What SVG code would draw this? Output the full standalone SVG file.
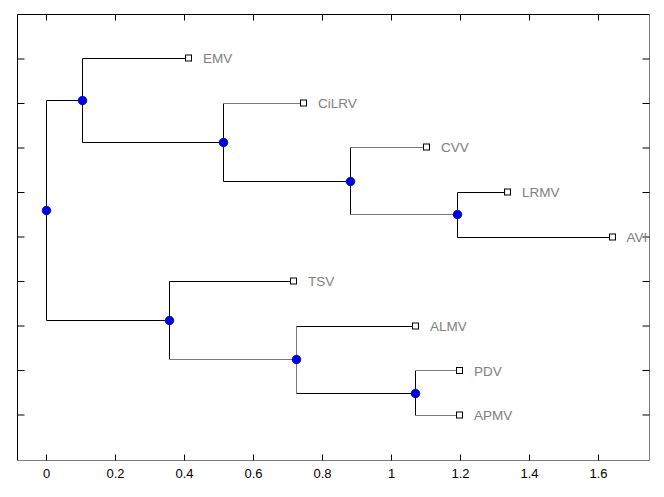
<svg xmlns="http://www.w3.org/2000/svg" width="664" height="497" viewBox="0 0 664 497">
<defs>
<style>
.bg{fill:#ffffff}
.ax{stroke:#000;stroke-width:1;fill:none}
.axg{stroke:#7a7a7a;stroke-width:1;fill:none}
.tk{stroke:#000;stroke-width:1}
.tl{font-family:"Liberation Sans",Arial,sans-serif;font-size:13px;fill:#000;text-anchor:middle}
.e{stroke:#000;stroke-width:1;fill:none}
.eg{stroke:#7a7a7a;stroke-width:1;fill:none}
.n{fill:#0000f0;stroke:#00008a;stroke-width:0.8}
.leaf{fill:#fff;stroke:#000;stroke-width:1}
.lb{font-family:"Liberation Sans",Arial,sans-serif;font-size:13.5px;fill:#808080}
</style>
<clipPath id="plot"><rect x="17.5" y="14.5" width="632" height="446"/></clipPath>
</defs>
<rect class="bg" x="0" y="0" width="664" height="497"/>

<g id="axes">
<path class="ax" d="M17.5,460.5 V14.5 H649.5"/>
<path class="axg" d="M649.5,14.5 V460.5 H17.5"/>
<g class="tk">
<path d="M46.5,14.5v6M115.5,14.5v6M184.5,14.5v6M253.5,14.5v6M322.5,14.5v6M391.5,14.5v6M460.5,14.5v6M529.5,14.5v6M598.5,14.5v6"/>
<path d="M46.5,460.5v-6M115.5,460.5v-6M184.5,460.5v-6M253.5,460.5v-6M322.5,460.5v-6M391.5,460.5v-6M460.5,460.5v-6M529.5,460.5v-6M598.5,460.5v-6"/>
<path d="M17.5,59h7M17.5,103.5h7M17.5,148h7M17.5,192.5h7M17.5,237h7M17.5,281.5h7M17.5,326h7M17.5,370.5h7M17.5,415h7"/>
<path d="M649.5,59h-7M649.5,103.5h-7M649.5,148h-7M649.5,192.5h-7M649.5,237h-7M649.5,281.5h-7M649.5,326h-7M649.5,370.5h-7M649.5,415h-7"/>
</g>
<g>
<text class="tl" x="46.5" y="478">0</text>
<text class="tl" x="115.5" y="478">0.2</text>
<text class="tl" x="184.5" y="478">0.4</text>
<text class="tl" x="253.5" y="478">0.6</text>
<text class="tl" x="322.5" y="478">0.8</text>
<text class="tl" x="391.5" y="478">1</text>
<text class="tl" x="460.5" y="478">1.2</text>
<text class="tl" x="529.5" y="478">1.4</text>
<text class="tl" x="598.5" y="478">1.6</text>
</g>
</g>

<g id="connectors">
<!-- vertical spines -->
<path class="e" d="M46.5,100.5V320.5"/>
<path class="e" d="M82.5,58.5V142.5"/>
<path class="e" d="M223.5,103.5V181.5"/>
<path class="e" d="M350.5,147.5V214.5"/>
<path class="e" d="M457.5,192.5V237.5"/>
<path class="e" d="M169.5,281.5V359.5"/>
<path class="eg" d="M296.5,326.5V393.5"/>
<path class="e" d="M415.5,370.5V415.5"/>
<!-- horizontal branches -->
<path class="e" d="M46.5,100.5H82.5"/>
<path class="e" d="M82.5,58.5H185"/>
<path class="e" d="M82.5,142.5H223.5"/>
<path class="eg" d="M223.5,103.5H300"/>
<path class="e" d="M223.5,181.5H350.5"/>
<path class="eg" d="M350.5,147.5H423"/>
<path class="eg" d="M350.5,214.5H457.5"/>
<path class="e" d="M457.5,192.5H504"/>
<path class="e" d="M457.5,237.5H609"/>
<path class="e" d="M46.5,320.5H169.5"/>
<path class="e" d="M169.5,281.5H290"/>
<path class="eg" d="M169.5,359.5H296.5"/>
<path class="e" d="M296.5,326.5H412"/>
<path class="e" d="M296.5,393.5H415.5"/>
<path class="eg" d="M415.5,370.5H456"/>
<path class="eg" d="M415.5,415.5H456"/>
</g>

<g id="root"><circle class="n" cx="46.5" cy="210.5" r="4.3"/></g>
<g id="nodeA"><circle class="n" cx="82.5" cy="100.5" r="4.3"/></g>
<g id="nodeB"><circle class="n" cx="223.5" cy="142.5" r="4.3"/></g>
<g id="nodeC"><circle class="n" cx="350.5" cy="181.5" r="4.3"/></g>
<g id="nodeD"><circle class="n" cx="457.5" cy="214.5" r="4.3"/></g>
<g id="nodeE"><circle class="n" cx="169.5" cy="320.5" r="4.3"/></g>
<g id="nodeF"><circle class="n" cx="296.5" cy="359.5" r="4.3"/></g>
<g id="nodeG"><circle class="n" cx="415.5" cy="393.5" r="4.3"/></g>

<g id="EMV"><rect class="leaf" x="185.5" y="55" width="6" height="6"/><text class="lb" x="203" y="63.3">EMV</text></g>
<g id="CiLRV"><rect class="leaf" x="300.5" y="100" width="6" height="6"/><text class="lb" x="318" y="108.3">CiLRV</text></g>
<g id="CVV"><rect class="leaf" x="423.5" y="144" width="6" height="6"/><text class="lb" x="441" y="152.3">CVV</text></g>
<g id="LRMV"><rect class="leaf" x="504.5" y="189" width="6" height="6"/><text class="lb" x="522" y="197.3">LRMV</text></g>
<g id="AVI"><rect class="leaf" x="609.5" y="234" width="6" height="6"/><text class="lb" x="626.5" y="242.3" clip-path="url(#plot)">AVI</text></g>
<g id="TSV"><rect class="leaf" x="290.5" y="278" width="6" height="6"/><text class="lb" x="308" y="286.3">TSV</text></g>
<g id="ALMV"><rect class="leaf" x="412.5" y="323" width="6" height="6"/><text class="lb" x="430" y="331.3">ALMV</text></g>
<g id="PDV"><rect class="leaf" x="456.5" y="367.5" width="6" height="6"/><text class="lb" x="474" y="375.5">PDV</text></g>
<g id="APMV"><rect class="leaf" x="456.5" y="412" width="6" height="6"/><text class="lb" x="474" y="420.3">APMV</text></g>
</svg>
